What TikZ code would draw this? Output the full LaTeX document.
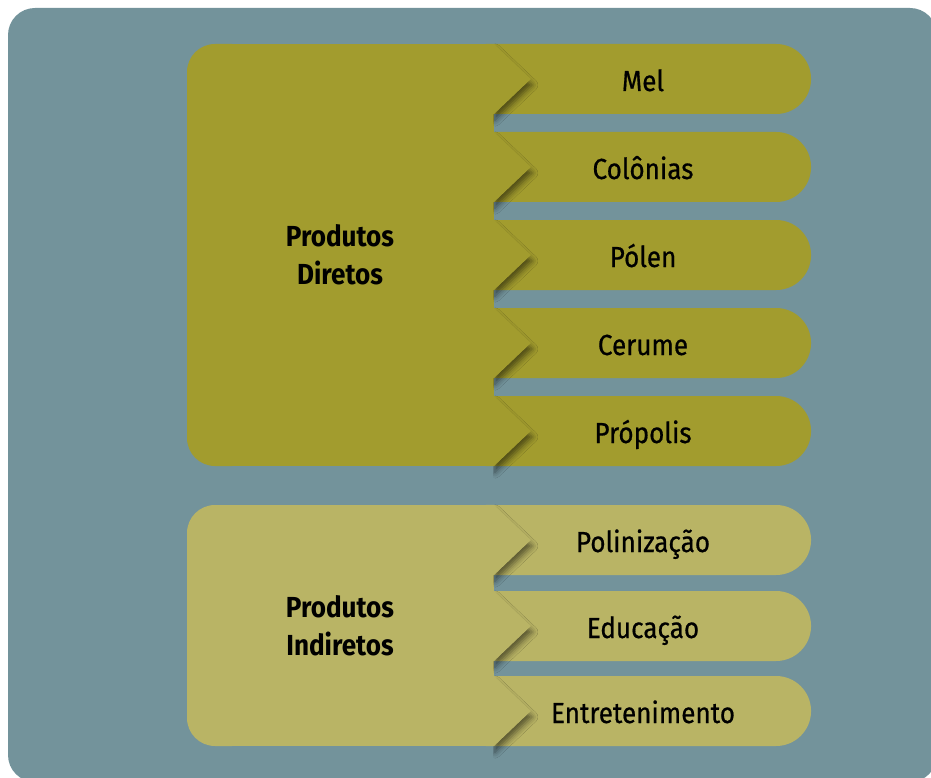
\documentclass[tikz,border=0pt]{standalone}
\usepackage{fontspec}
\setmainfont{Fira Sans}[FakeStretch=0.9]
\newfontfamily\itemfont{Fira Sans}[FakeStretch=0.9,FakeBold=0.6]
\usetikzlibrary{shapes.misc,shadows.blur}
\definecolor{slate}{HTML}{73939B}
\definecolor{darkolive}{HTML}{A29C2E}
\definecolor{paleolive}{HTML}{B9B465}

\begin{document}
\begin{tikzpicture}[x=1pt,y=-1pt,
	group/.style={text=black,align=center,font=\fontsize{29}{38}\selectfont\bfseries},
	item/.style={shape=rounded rectangle,rounded rectangle west arc=none,minimum width=317pt,minimum height=70pt,inner sep=0pt,text=black,text height=24pt,text depth=0pt,font=\fontsize{29}{32}\selectfont\itemfont,execute at begin node=\hspace*{-17pt}},
	tip/.style={blur shadow={shadow xshift=1pt,shadow yshift=-6pt,shadow blur radius=6pt,shadow opacity=55}}]
		\useasboundingbox (0,0) rectangle (931,778);
		\fill[slate, rounded corners=27pt] (8,8) rectangle (937,782);

		% left blocks
		\fill[darkolive, rounded corners=28pt] (187,44) rectangle (260,466);
		\fill[darkolive] (230,44) rectangle (494,466);
		\fill[paleolive, rounded corners=28pt] (187,505) rectangle (260,746);
		\fill[paleolive] (230,505) rectangle (494,746);

		\path (340,255) node[group] (dir) {Produtos\\Diretos}
		(340,625.5) node[group] (ind) {Produtos\\Indiretos};

		% items
		\path (651.5,79) node[item,fill=darkolive] (mel) {Mel}
		(651.5,167) node[item,fill=darkolive] (col) {Colônias}
		(651.5,255) node[item,fill=darkolive] (pol) {Pólen}
		(651.5,343) node[item,fill=darkolive] (cer) {Cerume}
		(651.5,431) node[item,fill=darkolive] (pro) {Própolis}
		(651.5,540) node[item,fill=paleolive] (poli) {Polinização}
		(651.5,626) node[item,fill=paleolive] (edu) {Educação}
		(651.5,711) node[item,fill=paleolive] (ent) {Entretenimento};

		% shadows of the tips, kept off the left blocks
		\begin{scope}
		\clip (493,0) rectangle (931,778);
		\path[tip] (mel.north west) -- ([xshift=37pt]mel.west) -- (mel.south west) -- cycle;
		\path[tip] (col.north west) -- ([xshift=37pt]col.west) -- (col.south west) -- cycle;
		\path[tip] (pol.north west) -- ([xshift=37pt]pol.west) -- (pol.south west) -- cycle;
		\path[tip] (cer.north west) -- ([xshift=37pt]cer.west) -- (cer.south west) -- cycle;
		\path[tip] (pro.north west) -- ([xshift=37pt]pro.west) -- (pro.south west) -- cycle;
		\path[tip] (poli.north west) -- ([xshift=37pt]poli.west) -- (poli.south west) -- cycle;
		\path[tip] (edu.north west) -- ([xshift=37pt]edu.west) -- (edu.south west) -- cycle;
		\path[tip] (ent.north west) -- ([xshift=37pt]ent.west) -- (ent.south west) -- cycle;
		\end{scope}

		% tips
		\fill[darkolive] ([xshift=-8pt]mel.north west) -- (mel.north west) -- ([xshift=37pt]mel.west) -- (mel.south west) -- ([xshift=-8pt]mel.south west) -- cycle;
		\fill[darkolive] ([xshift=-8pt]col.north west) -- (col.north west) -- ([xshift=37pt]col.west) -- (col.south west) -- ([xshift=-8pt]col.south west) -- cycle;
		\fill[darkolive] ([xshift=-8pt]pol.north west) -- (pol.north west) -- ([xshift=37pt]pol.west) -- (pol.south west) -- ([xshift=-8pt]pol.south west) -- cycle;
		\fill[darkolive] ([xshift=-8pt]cer.north west) -- (cer.north west) -- ([xshift=37pt]cer.west) -- (cer.south west) -- ([xshift=-8pt]cer.south west) -- cycle;
		\fill[darkolive] ([xshift=-8pt]pro.north west) -- (pro.north west) -- ([xshift=37pt]pro.west) -- (pro.south west) -- ([xshift=-8pt]pro.south west) -- cycle;
		\fill[paleolive] ([xshift=-8pt]poli.north west) -- (poli.north west) -- ([xshift=37pt]poli.west) -- (poli.south west) -- ([xshift=-8pt]poli.south west) -- cycle;
		\fill[paleolive] ([xshift=-8pt]edu.north west) -- (edu.north west) -- ([xshift=37pt]edu.west) -- (edu.south west) -- ([xshift=-8pt]edu.south west) -- cycle;
		\fill[paleolive] ([xshift=-8pt]ent.north west) -- (ent.north west) -- ([xshift=37pt]ent.west) -- (ent.south west) -- ([xshift=-8pt]ent.south west) -- cycle;

	\end{tikzpicture}
\end{document}
